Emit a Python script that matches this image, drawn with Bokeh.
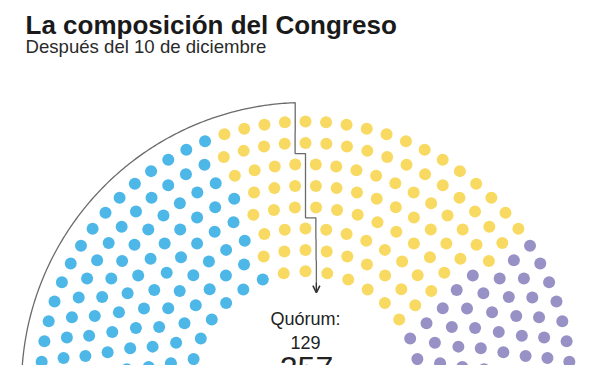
import numpy as np
from bokeh.plotting import figure
from bokeh.models import Label, Arrow, OpenHead
from bokeh.embed import file_html
from bokeh.resources import INLINE

# ---- data ----
parties = ["Bloque celeste", "Bloque amarillo", "Bloque violeta"]
party_seats = [103, 97, 57]
party_colors = ["#4DB7E7", "#F8DA62", "#9891C6"]
total_seats = 257
quorum = 129
row_seats = [45, 41, 38, 34, 30, 27, 23, 19]   # outer row first

title = "La composición del Congreso"
subtitle = "Después del 10 de diciembre"
quorum_label = "Quórum:"

# ---- geometry (page pixels, y flipped) ----
W, H = 600, 365
cx, cy = 305.0, -386.0
r_outer = 265.0
gap = 21.4
start_deg, end_deg = 188.0, -8.0
outline_r = 284.0
dot_r = 6.0

p = figure(width=W, height=H, x_range=(0, W), y_range=(-H, 0),
           output_backend="svg", toolbar_location=None,
           x_axis_location=None, y_axis_location=None, min_border=0)
p.grid.visible = False
p.outline_line_color = None
p.background_fill_color = "white"
p.border_fill_color = "white"

# seats
seat_theta, seat_r, seat_row, seat_j = [], [], [], []
for k, n in enumerate(row_seats):
    r = r_outer - k * gap
    th = np.linspace(start_deg, end_deg, n)
    for j, t in enumerate(th):
        seat_theta.append(t); seat_r.append(r); seat_row.append(k); seat_j.append(j)
seat_theta = np.array(seat_theta); seat_r = np.array(seat_r)
seat_row = np.array(seat_row); seat_j = np.array(seat_j)
order = np.lexsort((seat_r, -np.round(seat_theta, 6)))
cols = []
for c, s in zip(party_colors, party_seats):
    cols += [c] * s
colors = np.empty(total_seats, dtype=object)
colors[order] = cols
xs = cx + seat_r * np.cos(np.radians(seat_theta))
ys = cy + seat_r * np.sin(np.radians(seat_theta))
p.circle(xs, ys, radius=dot_r, fill_color=list(colors), line_color=None)

# quorum outline: left set = first `quorum` seats in order
left = np.zeros(total_seats, bool)
left[order[:quorum]] = True
bx = []
for k, n in enumerate(row_seats):
    idx = np.where((seat_row == k) & left)[0]
    jl = seat_j[idx].max()
    r = r_outer - k * gap
    step = (start_deg - end_deg) / (n - 1)
    t1, t2 = np.radians(start_deg - jl * step), np.radians(start_deg - (jl + 1) * step)
    bx.append((cx + r * np.cos(t1) + cx + r * np.cos(t2)) / 2)

t_top = np.degrees(np.arccos((bx[0] - cx) / outline_r))
arc_t = np.radians(np.linspace(195, t_top, 200))
lx = list(cx + outline_r * np.cos(arc_t))
ly = list(cy + outline_r * np.sin(arc_t))
for k in range(len(row_seats) - 1):
    r = r_outer - k * gap
    y_step = cy + r - gap / 2
    lx.append(bx[k]); ly.append(y_step)
    lx.append(bx[k + 1]); ly.append(y_step)
tip_y = cy + (r_outer - (len(row_seats) - 1) * gap) - gap
lx.append(bx[-1]); ly.append(tip_y)
p.line(lx, ly, line_color="#6a6a6a", line_width=1.3)
p.add_layout(Arrow(end=OpenHead(size=7, line_color="#333333", line_width=1.6),
                   x_start=bx[-1], y_start=tip_y + 10, x_end=bx[-1], y_end=tip_y,
                   line_color="#333333", line_width=1.3))

font = "Liberation Sans"
p.add_layout(Label(x=25, y=-24.3, text=title, text_font=font, text_font_size="26px",
                   text_font_style="bold", text_color="#1a1a1a", text_baseline="alphabetic"))
p.add_layout(Label(x=25, y=-45.7, text=subtitle, text_font=font, text_font_size="18.6px",
                   text_color="#2a2a2a", text_baseline="alphabetic"))
p.add_layout(Label(x=cx, y=-318.5, text=quorum_label, text_font=font, text_font_size="18px",
                   text_color="#222222", text_align="center", text_baseline="alphabetic"))
p.add_layout(Label(x=cx, y=-341.5, text=str(quorum), text_font=font, text_font_size="18px",
                   text_color="#222222", text_align="center", text_baseline="alphabetic"))
p.add_layout(Label(x=cx + 1, y=-356, text=str(total_seats), text_font=font, text_font_size="32px",
                   text_color="#222222", text_align="center", text_baseline="top"))

open("out.html", "w").write(file_html(p, INLINE))
